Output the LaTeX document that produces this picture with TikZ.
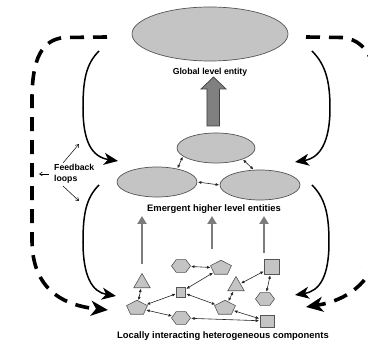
\documentclass[tikz,border=0pt]{standalone}
\usepackage{fontspec}
\setmainfont{Liberation Sans}
\usetikzlibrary{arrows.meta,shapes.geometric}
\definecolor{shapefill}{HTML}{C4C4C4}
\definecolor{shapeline}{HTML}{555555}
\definecolor{bigfill}{HTML}{808080}
\definecolor{garrowc}{HTML}{7C7C7C}
\begin{document}
\begin{tikzpicture}[x=1pt,y=-1pt,
  ell/.style={ellipse, draw=shapeline, fill=shapefill, line width=0.7pt, inner sep=0pt},
  comp/.style={draw=shapeline, fill=shapefill, line width=0.6pt, inner sep=0pt},
  hexa/.style={comp, regular polygon, regular polygon sides=6, minimum size=19pt, yscale=0.78},
  penta/.style={comp, regular polygon, regular polygon sides=5, minimum size=22pt, yscale=0.7},
  tri/.style={comp, regular polygon, regular polygon sides=3, minimum size=19pt},
  sq/.style={comp, rectangle},
  lbl/.style={font=\fontsize{9.4}{11}\selectfont\bfseries, inner sep=0pt},
  slbl/.style={font=\fontsize{8.7}{10.5}\selectfont\bfseries, inner sep=0pt},
  link/.style={draw=black!85, line width=0.6pt, {Latex[length=3.5pt,width=3pt]}-{Latex[length=3.5pt,width=3pt]}, shorten <=0.5pt, shorten >=0.5pt},
  garrow/.style={draw=garrowc, line width=2.6pt, -{Triangle[length=8pt,width=9pt]}},
  loop/.style={draw=black, line width=1.5pt, -{Stealth[length=14pt,width=12pt,inset=4pt]}},
  dloop/.style={draw=black, line width=3.6pt, dash pattern=on 14pt off 9pt, -{Stealth[length=17pt,width=15pt,inset=5pt]}},
  thin/.style={draw=black, line width=0.5pt, -{Straight Barb[length=3pt,width=4pt]}}
]
\useasboundingbox (0,0) rectangle (368,344);
\fill[white] (0,0) rectangle (368,344);

% global level
\node[ell, minimum width=156pt, minimum height=54pt] (glob) at (210,34) {};
\node[slbl] (globtxt) at (210,72) {Global level entity};

% big upward arrow
\draw[draw=black!75, fill=bigfill, line width=0.7pt]
  (207,126) -- (207,89) -- (201,89) -- (213.5,77) -- (226,89) -- (219.5,89) -- (219.5,126) -- cycle;

% emergent entities
\node[ell, minimum width=78pt, minimum height=30pt] (mt) at (216,148) {};
\node[ell, minimum width=80pt, minimum height=30pt] (ml) at (157,182) {};
\node[ell, minimum width=80pt, minimum height=30pt] (mr) at (260,185) {};
\draw[link] (mt.194) -- (ml.33);
\draw[link] (mt.337) -- (mr.112);
\draw[link] (ml.east) -- (mr.west);
\node[lbl] (emtxt) at (214,209) {Emergent higher level entities};

% gray arrows
\coordinate (g1a) at (142,264); \coordinate (g1b) at (142,216);
\coordinate (g2a) at (212,249); \coordinate (g2b) at (212,216);
\coordinate (g3a) at (264,253); \coordinate (g3b) at (264,216);
\draw[garrow] (g1a) -- (g1b);
\draw[garrow] (g2a) -- (g2b);
\draw[garrow] (g3a) -- (g3b);

% components
\node[hexa] (A) at (181,266) {};
\node[penta] (B) at (221,268) {};
\node[sq, minimum width=15pt, minimum height=15pt] (C) at (272,267) {};
\node[tri] (D) at (142,283) {};
\node[sq, minimum width=9pt, minimum height=10pt] (E) at (181,292) {};
\node[tri] (F) at (236,286) {};
\node[penta] (G) at (137,308) {};
\node[penta] (H) at (225,308) {};
\node[hexa] (I) at (265,299) {};
\node[hexa] (J) at (181,318) {};
\node[sq, minimum width=14pt, minimum height=12pt] (K) at (267,321) {};

\draw[link] (A) -- (B);
\draw[link] (B) -- (E);
\draw[link] (E) -- (G);
\draw[link] (E) -- (H);
\draw[link] (D) -- (G);
\draw[link] (F) -- (H);
\draw[link] (F) -- (C);
\draw[link] (C) -- (I);
\draw[link] (G) -- (J);
\draw[link] (H) -- (K);
\draw[link] (K) -- (J);

\node[lbl] (loctxt) at (223,336) {Locally interacting heterogeneous components};

% solid feedback arrows
\coordinate (lu0) at (99,51);  \coordinate (lu1) at (118,161);
\coordinate (ll0) at (99,185); \coordinate (ll1) at (116,296);
\coordinate (ru0) at (312,51); \coordinate (ru1) at (295,162);
\coordinate (rl0) at (312,185);\coordinate (rl1) at (295,295);
\draw[loop] (lu0) .. controls (86,64) and (83,80) .. (83,108) .. controls (83,142) and (92,157) .. (lu1);
\draw[loop] (ll0) .. controls (86,198) and (83,214) .. (83,242) .. controls (83,276) and (92,292) .. (ll1);
\draw[loop] (ru0) .. controls (325,64) and (330,80) .. (330,108) .. controls (330,142) and (320,158) .. (ru1);
\draw[loop] (rl0) .. controls (325,198) and (329,214) .. (329,242) .. controls (329,276) and (320,291) .. (rl1);

% dashed feedback arrows
\coordinate (dl0) at (107,37); \coordinate (dl1) at (108,310);
\coordinate (dr0) at (306,37); \coordinate (dr1) at (306,307);
\draw[dloop] (dl0) -- (64,37.5) .. controls (42,40) and (32,58) .. (32,100) -- (32,240) .. controls (32,285) and (58,305) .. (dl1);
\draw[dloop] (dr0) -- (342,37.5) .. controls (362,39) and (378,56) .. (378,100) -- (378,240) .. controls (378,278) and (350,300) .. (dr1);

% feedback label
\node[slbl, align=left, anchor=west] (fbtxt) at (54,174) {Feedback\\loops};
\coordinate (f1) at (79,144); \coordinate (f2) at (39,174); \coordinate (f3) at (79,201);
\draw[thin] (63,163) -- (f1);
\draw[thin] (49,174) -- (f2);
\draw[thin] (63,186) -- (f3);
\end{tikzpicture}
\end{document}
